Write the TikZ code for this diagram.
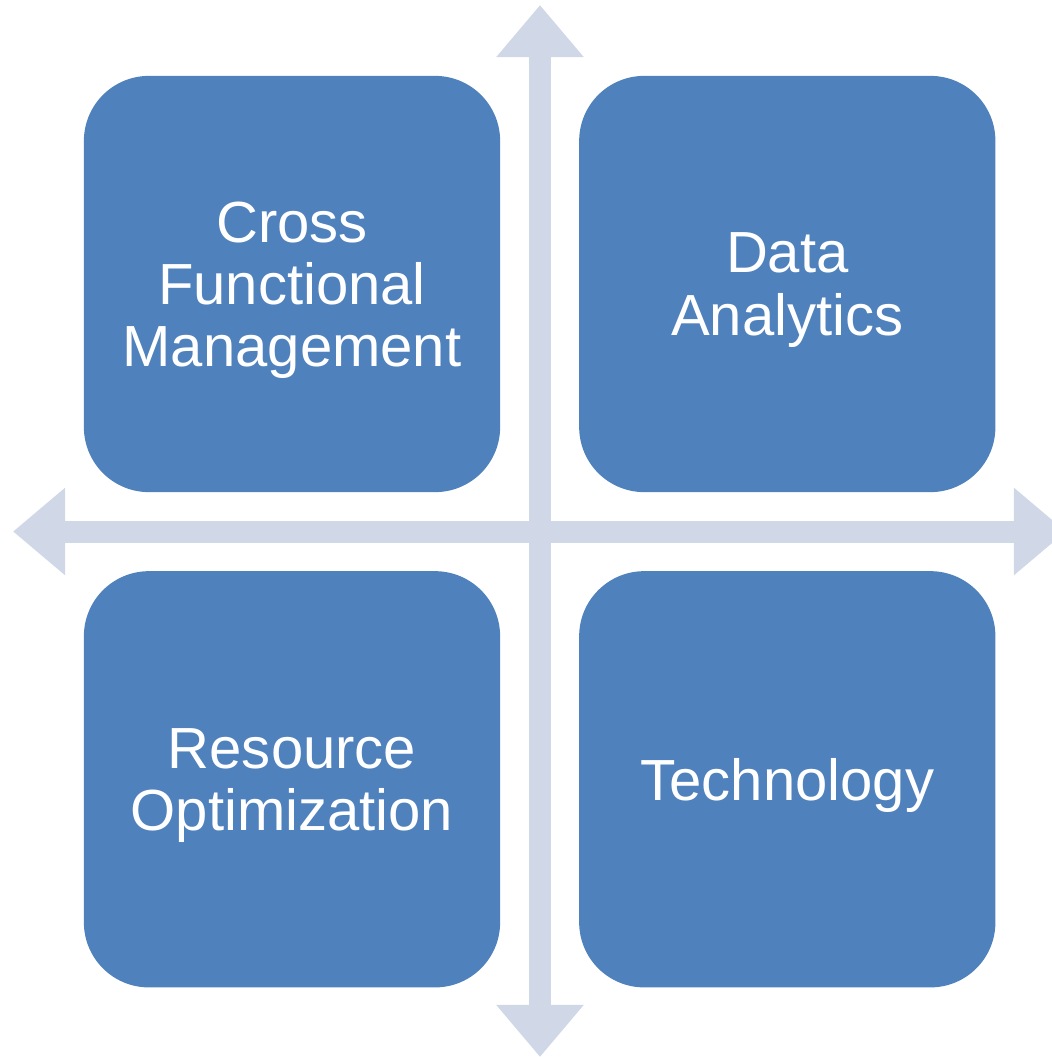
\documentclass[tikz,border=0pt]{standalone}
\usepackage{fontspec}
\setmainfont{Liberation Sans}
\usetikzlibrary{arrows.meta,positioning}
\definecolor{boxblue}{RGB}{79,129,189}
\definecolor{axisgrey}{RGB}{208,216,232}

\begin{document}
\begin{tikzpicture}[x=0.01cm, y=-0.01cm, node distance=0.79cm,
    axis/.style={draw=axisgrey, line width=0.22cm,
      {Triangle[width=0.84cm,length=0.52cm]}-{Triangle[width=0.84cm,length=0.52cm]}}]
\tikzstyle{quad}=[fill=boxblue, text=white, rounded corners=0.65cm,
  minimum width=4.16cm, minimum height=4.16cm, inner sep=0pt, outer sep=0pt,
  align=center, text depth=0pt, font=\fontsize{16.5}{17.7}\selectfont]
\useasboundingbox (0,0) rectangle (1052,1057);
% ends of the two axes
\coordinate (top)    at (540,5);
\coordinate (bottom) at (540,1057);
\coordinate (left)   at (13,531.5);
\coordinate (right)  at (1066,531.5);
\draw[axis] (left) -- (right);
\draw[axis] (bottom) -- (top);
% the four quadrants
\node[quad]               (cross) at (292,284) {Cross\\Functional\\Management};
\node[quad, right=of cross] (data)  {Data\\Analytics};
\node[quad, below=of cross] (res)   {Resource\\Optimization};
\node[quad, below=of data]  (tech)  {Technology};
\end{tikzpicture}
\end{document}
